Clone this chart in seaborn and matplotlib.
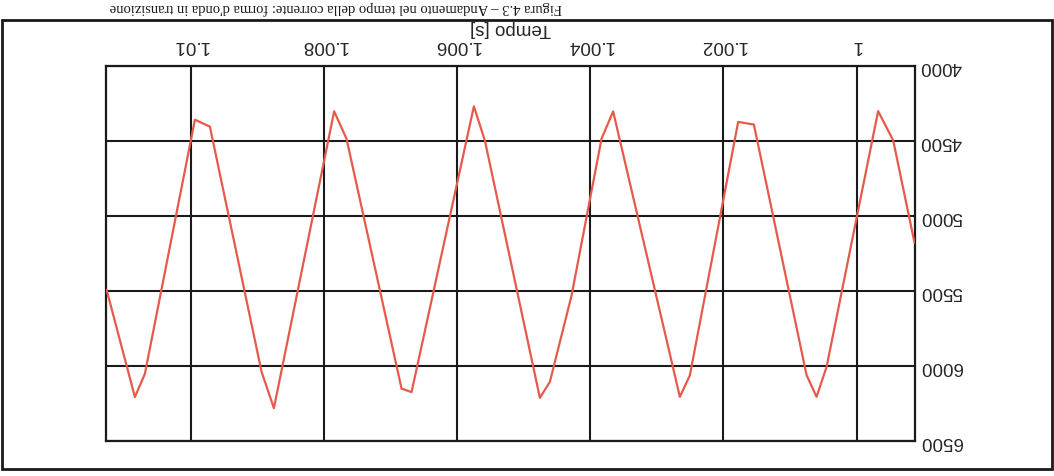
import numpy as np
import pandas as pd
import matplotlib
matplotlib.use("Agg")
import matplotlib.pyplot as plt
import seaborn as sns
from matplotlib.patches import Rectangle

# Sampled signal: time [s] and value
tempo = [1.011261, 1.010836, 1.010686, 1.009935, 1.009710, 1.008934, 1.008749,
         1.007844, 1.007658, 1.006832, 1.006682, 1.005746, 1.005581, 1.004755,
         1.004605, 1.004279, 1.003829, 1.003655, 1.002653, 1.002503, 1.001778,
         1.001542, 1.000751, 1.000601, 1.000450, 0.999676, 0.999450, 0.999130]
valores = [5492, 6207, 6052, 4358, 4404, 6039, 6281,
           4302, 4486, 6151, 6174, 4269, 4497, 6212,
           6106, 5529, 4484, 4303, 6206, 6062, 4373,
           4390, 6060, 6206, 6006, 4301, 4496, 5178]

x_ticks = [1.0, 1.002, 1.004, 1.006, 1.008, 1.01]
x_tick_labels = ["1", "1.002", "1.004", "1.006", "1.008", "1.01"]
y_ticks = [4000, 4500, 5000, 5500, 6000, 6500]
y_tick_labels = ["4000", "4500", "5000", "5500", "6000", "6500"]
x_range = (1.01127, 0.99913)
y_range = (6500, 4000)

sns.set_theme(style="white")
plt.rcParams['font.family'] = ['Liberation Sans', 'DejaVu Sans']

W, H = 1054, 477
fig = plt.figure(figsize=(W / 100, H / 100), dpi=100)
fig.patch.set_facecolor("white")

# page is scanned upside down: both axes run reversed and all text is turned 180 degrees
ax = fig.add_axes([106 / W, (H - 442) / H, (914.5 - 106) / W, 375 / H])
df = pd.DataFrame({"t": tempo, "v": valores})
sns.lineplot(data=df, x="t", y="v", ax=ax, color="#e65a4c", linewidth=1.6,
             sort=False, zorder=3)

ax.set_xlim(*x_range)
ax.set_ylim(*y_range)
ax.xaxis.tick_top()
ax.xaxis.set_label_position("top")
ax.yaxis.tick_right()
ax.set_xticks(x_ticks)
ax.set_xticklabels(x_tick_labels, rotation=180, fontsize=13.5)
ax.set_yticks(y_ticks)
ax.set_yticklabels(y_tick_labels, rotation=180, fontsize=13.5, va="center")
ax.tick_params(axis="x", length=0, pad=9)
ax.tick_params(axis="y", length=0, pad=4)
ax.set_xlabel("Tempo [s]", rotation=180, fontsize=13.5, labelpad=3)
ax.set_ylabel("")
ax.grid(True, color="#1a1a1a", linewidth=1.5)
for s in ax.spines.values():
    s.set_color("#1a1a1a")
    s.set_linewidth(1.6)

# chart-area frame
fig.add_artist(Rectangle((2 / W, (H - 470) / H), 1050 / W, (470 - 21) / H,
                         transform=fig.transFigure, fill=False,
                         edgecolor="#1a1a1a", linewidth=2))

# caption below the chart
fig.text(110 / W, (H - 1) / H,
         "Figura 4.3 \u2013 Andamento nel tempo della corrente: forma d'onda in transizione",
         rotation=180, ha="left", va="top", fontsize=10.5,
         family=["Liberation Serif", "DejaVu Serif"], color="#1a1a1a")

fig.savefig("out.png", dpi=100, facecolor="white")
